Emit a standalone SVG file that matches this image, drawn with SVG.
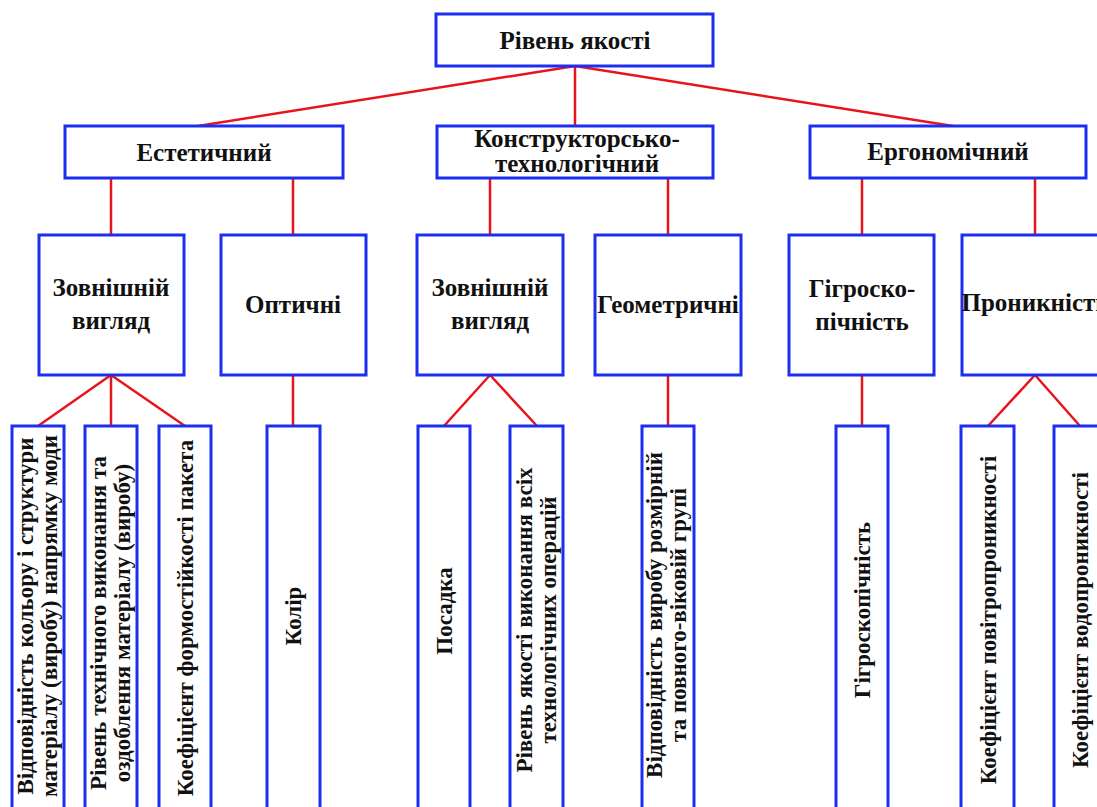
<svg xmlns="http://www.w3.org/2000/svg" width="1097" height="807" viewBox="0 0 1097 807">
<style>
.box{fill:#fff;stroke:#1c2ff0;stroke-width:3}
.ln{stroke:#e8141c;stroke-width:2.5;fill:none}
.t{font-weight:bold;fill:#111;text-anchor:middle}
.h{font-size:25px}
.l{font-size:23px}
</style>
<rect width="1097" height="807" fill="#fff"/>
<g id="connectors">
<path class="ln" d="M575 66L198 126M575 66L575 126M575 66L953 126"/>
<path class="ln" d="M111 178V235M293 178V235M490 178V235M668 178V235M862 178V235M1035 178V235"/>
<path class="ln" d="M111 375L38 426M111 375L111 426M111 375L185 426M293 375V426"/>
<path class="ln" d="M490 375L444 426M490 375L537 426M668 375V426M862 375V426"/>
<path class="ln" d="M1035 375L988 426M1035 375L1080 426"/>
</g>
<g font-family="Liberation Serif, DejaVu Serif, serif">
<g id="n-root"><rect class="box" x="436" y="14" width="277" height="52"/><text class="t h" x="575" y="49">Рівень якості</text></g>
<g id="n-est"><rect class="box" x="65" y="126" width="278" height="52"/><text class="t h" x="204" y="161">Естетичний</text></g>
<g id="n-kt"><rect class="box" x="437" y="126" width="276" height="52"/><text class="t h" x="577" y="147">Конструкторсько-<tspan x="577" y="172">технологічний</tspan></text></g>
<g id="n-erg"><rect class="box" x="810" y="126" width="276" height="52"/><text class="t h" x="948" y="160">Ергономічний</text></g>
<g id="n-zv1"><rect class="box" x="39" y="235" width="145" height="140"/><text class="t h" x="111" y="296">Зовнішній<tspan x="111" y="329">вигляд</tspan></text></g>
<g id="n-opt"><rect class="box" x="221" y="235" width="145" height="140"/><text class="t h" x="293" y="313">Оптичні</text></g>
<g id="n-zv2"><rect class="box" x="417" y="235" width="146" height="140"/><text class="t h" x="490" y="296">Зовнішній<tspan x="490" y="329">вигляд</tspan></text></g>
<g id="n-geo"><rect class="box" x="595" y="235" width="146" height="140"/><text class="t h" x="668" y="313">Геометричні</text></g>
<g id="n-gig"><rect class="box" x="789" y="235" width="145" height="140"/><text class="t h" x="862" y="297">Гігроско-<tspan x="862" y="330">пічність</tspan></text></g>
<g id="n-pron"><rect class="box" x="962" y="235" width="146" height="140"/><text class="t h" x="1035" y="311">Проникність</text></g>
<g id="n-l1"><rect class="box" x="12" y="426" width="52" height="390"/><text class="t l" transform="translate(33 616) rotate(-90)">Відповідність кольору і структури<tspan x="0" dy="24">матеріалу (виробу) напрямку моди</tspan></text></g>
<g id="n-l2"><rect class="box" x="85" y="426" width="52" height="390"/><text class="t l" transform="translate(106 623) rotate(-90)">Рівень технічного виконання та<tspan x="0" dy="24">оздоблення матеріалу (виробу)</tspan></text></g>
<g id="n-l3"><rect class="box" x="159" y="426" width="52" height="390"/><text class="t l" transform="translate(193 618) rotate(-90)">Коефіцієнт формостійкості пакета</text></g>
<g id="n-l4"><rect class="box" x="267" y="426" width="53" height="390"/><text class="t l" transform="translate(301 616) rotate(-90)">Колір</text></g>
<g id="n-l5"><rect class="box" x="418" y="426" width="52" height="390"/><text class="t l" transform="translate(452 611) rotate(-90)">Посадка</text></g>
<g id="n-l6"><rect class="box" x="510" y="426" width="53" height="390"/><text class="t l" transform="translate(532 620) rotate(-90)">Рівень якості виконання всіх<tspan x="0" dy="24">технологічних операцій</tspan></text></g>
<g id="n-l7"><rect class="box" x="642" y="426" width="52" height="390"/><text class="t l" transform="translate(662 615) rotate(-90)">Відповідність виробу розмірній<tspan x="0" dy="24">та повного-віковій групі</tspan></text></g>
<g id="n-l8"><rect class="box" x="836" y="426" width="52" height="390"/><text class="t l" transform="translate(870 610) rotate(-90)">Гігроскопічність</text></g>
<g id="n-l9"><rect class="box" x="961" y="426" width="53" height="390"/><text class="t l" transform="translate(996 620) rotate(-90)">Коефіцієнт повітропроникності</text></g>
<g id="n-l10"><rect class="box" x="1054" y="426" width="52" height="390"/><text class="t l" transform="translate(1088 620) rotate(-90)">Коефіцієнт водопроникності</text></g>
</g>
</svg>
